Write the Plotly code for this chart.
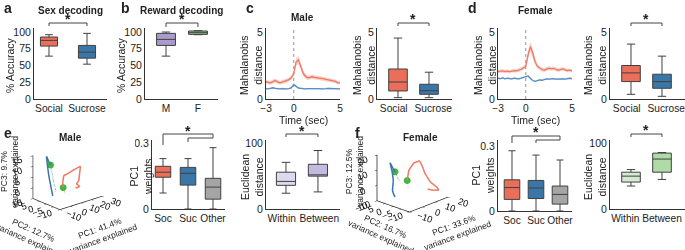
import plotly.graph_objects as go

W, H = 685, 250
FONT = "Liberation Sans, Arial, Helvetica, sans-serif"
TXT = "#222222"
AXC = "#333333"
BOXLINE = "#404040"
NB = "\u00a0"

# ---------------- data ----------------
sex_cats = ["Social", "Sucrose"]
sex_q1 = [79, 61]
sex_med = [87.5, 70]
sex_q3 = [92.5, 80]
sex_lo = [64, 52]
sex_hi = [96, 98]

rew_cats = ["M", "F"]
rew_q1 = [80, 96.5]
rew_med = [89, 99]
rew_q3 = [98, 101.5]
rew_lo = [64, 96]
rew_hi = [100, 102]

acc_ticks = [0, 25, 50, 75, 100]
chance_level = 50

time_s = [-3.0, -2.75, -2.5, -2.25, -2.0, -1.75, -1.5, -1.25, -1.0, -0.75, -0.5, -0.25,
          0.0, 0.25, 0.5, 0.75, 1.0, 1.25, 1.5, 1.75, 2.0, 2.25, 2.5, 2.75,
          3.0, 3.25, 3.5, 3.75, 4.0, 4.25, 4.5, 4.75, 5.0]
male_soc = [1.27, 1.22, 1.20, 1.30, 1.38, 1.28, 1.20, 1.26, 1.32, 1.38, 1.45, 1.60,
            1.90, 2.75, 2.92, 2.45, 1.95, 1.70, 1.58, 1.62, 1.66, 1.62, 1.60, 1.56,
            1.52, 1.50, 1.46, 1.42, 1.40, 1.36, 1.32, 1.22, 1.20]
male_soc_sem = [0.14, 0.14, 0.14, 0.15, 0.15, 0.14, 0.14, 0.14, 0.14, 0.15, 0.15, 0.16,
                0.20, 0.30, 0.30, 0.25, 0.20, 0.17, 0.16, 0.16, 0.16, 0.16, 0.16, 0.15,
                0.15, 0.15, 0.15, 0.14, 0.14, 0.14, 0.14, 0.13, 0.13]
male_suc = [0.78, 0.76, 0.80, 0.84, 0.80, 0.76, 0.76, 0.78, 0.76, 0.75, 0.78, 0.85,
            1.08, 0.92, 0.82, 0.80, 0.76, 0.75, 0.77, 0.78, 0.76, 0.75, 0.76, 0.77,
            0.76, 0.75, 0.78, 0.80, 0.78, 0.76, 0.75, 0.76, 0.75]
male_suc_sem = [0.06, 0.06, 0.06, 0.06, 0.06, 0.06, 0.06, 0.06, 0.06, 0.06, 0.06, 0.07,
                0.08, 0.07, 0.06, 0.06, 0.06, 0.06, 0.06, 0.06, 0.06, 0.06, 0.06, 0.06,
                0.06, 0.06, 0.06, 0.06, 0.06, 0.06, 0.06, 0.06, 0.06]
fem_soc = [2.05, 2.08, 2.10, 2.05, 2.08, 2.04, 2.10, 2.12, 2.10, 2.15, 2.22, 2.32,
           2.45, 3.30, 3.90, 3.45, 2.80, 2.45, 2.30, 2.20, 2.15, 2.25, 2.30, 2.25,
           2.28, 2.22, 2.15, 2.20, 2.25, 2.18, 2.12, 2.15, 2.10]
fem_soc_sem = [0.13, 0.13, 0.13, 0.13, 0.13, 0.13, 0.13, 0.13, 0.13, 0.14, 0.14, 0.15,
               0.18, 0.30, 0.35, 0.30, 0.22, 0.17, 0.15, 0.14, 0.14, 0.14, 0.14, 0.14,
               0.14, 0.14, 0.13, 0.13, 0.13, 0.13, 0.13, 0.13, 0.13]
fem_suc = [1.55, 1.52, 1.58, 1.50, 1.55, 1.52, 1.50, 1.55, 1.52, 1.50, 1.55, 1.60,
           1.65, 1.72, 1.55, 1.38, 1.32, 1.38, 1.42, 1.40, 1.48, 1.50, 1.48, 1.50,
           1.52, 1.48, 1.50, 1.52, 1.50, 1.48, 1.52, 1.55, 1.52]
fem_suc_sem = [0.06, 0.06, 0.06, 0.06, 0.06, 0.06, 0.06, 0.06, 0.06, 0.06, 0.06, 0.06,
               0.07, 0.07, 0.07, 0.06, 0.06, 0.06, 0.06, 0.06, 0.06, 0.06, 0.06, 0.06,
               0.06, 0.06, 0.06, 0.06, 0.06, 0.06, 0.06, 0.06, 0.06]
time_ticks = [-3, 0, 5]
maha_ticks = [0, 5]

maha_cats = ["Social", "Sucrose"]
male_maha_q1 = [0.6, 0.35]
male_maha_med = [1.27, 0.62]
male_maha_q3 = [2.24, 1.1]
male_maha_lo = [0.1, 0.1]
male_maha_hi = [4.55, 2.0]
fem_maha_q1 = [1.3, 0.8]
fem_maha_med = [1.95, 1.3]
fem_maha_q3 = [2.5, 1.85]
fem_maha_lo = [0.35, 0.2]
fem_maha_hi = [4.1, 3.2]

pc_cats = ["Soc", "Suc", "Other"]
male_pc1_q1 = [0.145, 0.109, 0.045]
male_pc1_med = [0.168, 0.163, 0.100]
male_pc1_q3 = [0.195, 0.190, 0.140]
male_pc1_lo = [0.073, 0.0, 0.0]
male_pc1_hi = [0.230, 0.230, 0.280]
fem_pc1_q1 = [0.054, 0.058, 0.032]
fem_pc1_med = [0.109, 0.107, 0.077]
fem_pc1_q3 = [0.145, 0.142, 0.116]
fem_pc1_lo = [0.0, 0.0, 0.0]
fem_pc1_hi = [0.280, 0.260, 0.237]
pc1_ticks = [0, 0.3]

euc_cats = ["Within", "Between"]
male_euc_q1 = [36, 50]
male_euc_med = [42, 52]
male_euc_q3 = [56, 68]
male_euc_lo = [24, 26]
male_euc_hi = [71, 89]
fem_euc_q1 = [41, 56]
fem_euc_med = [50, 76]
fem_euc_q3 = [56, 85]
fem_euc_lo = [35, 45]
fem_euc_hi = [60, 86]
euc_ticks = [0, 100]

# PCA trajectories (PC1, PC2, PC3)
m_soc_pre_pc1 = [7.3, 6.8, 5.8]
m_soc_pre_pc2 = [0, 0, 0]
m_soc_pre_pc3 = [-2.8, -1.2, 0.3]
m_soc_pc1 = [5.8, 5.5, 6.5, 11, 16.3, 22.3, 21.6, 20.8, 18.6, 21.6, 18.6, 17.8]
m_soc_pc2 = [0, 0, 0, 0, 0, 0, 0, 0, 0, 0, 0, 0]
m_soc_pc3 = [0.3, 3, 5.7, 6.2, 7, 7.6, 4.9, 1.3, -0.1, -1.6, -2, -1.3]
m_suc_pre_pc1 = [5.4, 3.5, 1.8, 0.2]
m_suc_pre_pc2 = [5, 5, 5, 5]
m_suc_pre_pc3 = [-2.7, 1.5, 6, 10.4]
m_suc_pc1 = [0.2, -3.6, -2.5, -1.4, 0.5, 2.4]
m_suc_pc2 = [5, 5, 5, 5, 5, 5]
m_suc_pc3 = [10.4, 15, 10, 5.7, 0.5, -4.4]
m_onset_pc1 = [5.8, 0.2]
m_onset_pc2 = [0, 5]
m_onset_pc3 = [0.3, 10.4]

f_soc_pre_pc1 = [1.8, 1.2, 0.8]
f_soc_pre_pc2 = [0, 0, 0]
f_soc_pre_pc3 = [-1.5, 1, 3.5]
f_soc_pc1 = [0.8, 2.1, 5.9, 10.4, 12.3, 13.6, 15, 18, 19, 15, 13]
f_soc_pc2 = [0, 0, 0, 0, 0, -1, -3, -5, -5, -4, -3]
f_soc_pc3 = [3.5, 9.6, 13.2, 13.2, 9.7, 4, -1, -5, -7, -6, -5]
f_suc_pre_pc1 = [1, -0.5, -2.4]
f_suc_pre_pc2 = [5, 5, 5]
f_suc_pre_pc3 = [1, 4.5, 8.4]
f_suc_pc1 = [-2.4, -6.2, -4.5, -3.6, -4.3, -2, -1]
f_suc_pc2 = [5, 5, 5, 5, 5, 6, 6]
f_suc_pc3 = [8.4, 15.5, 9, 3, -3.3, -7, -9]
f_onset_pc1 = [0.8, -2.4]
f_onset_pc2 = [0, 5]
f_onset_pc3 = [3.5, 8.4]

# ---------------- colours ----------------
C_SOC = "#EA6E5A"
C_SUC = "#3B76A8"
C_M = "#A99BCB"
C_F = "#8CCB8A"
C_OTH = "#A5A5A5"
C_WM = "#DDD9EE"
C_BM = "#C4BAE0"
C_WF = "#D3ECCF"
C_BF = "#B0DBA9"
C_LRED = "#EE7A64"
C_LBLUE = "#5A8DC8"
C_GREEN = "#3CB83C"

fig = go.Figure()
AX = {}
layout_axes = {}


def refs(n):
    return ("x" if n == 1 else f"x{n}"), ("y" if n == 1 else f"y{n}")


def def_axes(n, xpx, ypx, xr, yr, yt, cats=None, xt=None, labels=None):
    AX[n] = dict(xd=[xpx[0] / W, xpx[1] / W], yd=[1 - ypx[1] / H, 1 - ypx[0] / H], xr=xr, yr=yr)
    xr_, yr_ = refs(n)
    common = dict(showline=True, linecolor=AXC, linewidth=1, showgrid=False, zeroline=False,
                  automargin=False, ticks="", fixedrange=True)
    xa = dict(domain=AX[n]["xd"], range=xr, anchor=yr_, tickangle=0,
              tickfont=dict(size=10.2, color=TXT, family=FONT), **common)
    if cats:
        xa.update(type="category", categoryorder="array", categoryarray=cats,
                  tickmode="array", tickvals=cats, ticktext=labels or cats)
    else:
        xa.update(tickvals=xt)
    ya = dict(domain=AX[n]["yd"], range=yr, anchor=xr_, tickvals=yt,
              tickfont=dict(size=10.5, color=TXT, family=FONT), **common)
    key = "" if n == 1 else str(n)
    layout_axes[f"xaxis{key}"] = xa
    layout_axes[f"yaxis{key}"] = ya


def add_boxes(n, cats, q1, med, q3, lo, hi, colors, width):
    xr_, yr_ = refs(n)
    for i, c in enumerate(cats):
        fig.add_trace(go.Box(x=[c], q1=[q1[i]], median=[med[i]], q3=[q3[i]],
                             lowerfence=[lo[i]], upperfence=[hi[i]],
                             fillcolor=colors[i], line=dict(color=BOXLINE, width=1),
                             width=width, whiskerwidth=0.45, boxpoints=False,
                             xaxis=xr_, yaxis=yr_, showlegend=False, hoverinfo="skip"))


def add_trace_band(n, t, mean, sem, color, band):
    xr_, yr_ = refs(n)
    up = [m + s for m, s in zip(mean, sem)]
    dn = [m - s for m, s in zip(mean, sem)]
    fig.add_trace(go.Scatter(x=t + t[::-1], y=up + dn[::-1], fill="toself", fillcolor=band,
                             line=dict(width=0), mode="lines", xaxis=xr_, yaxis=yr_,
                             showlegend=False, hoverinfo="skip"))
    fig.add_trace(go.Scatter(x=t, y=mean, mode="lines", line=dict(color=color, width=1.3),
                             xaxis=xr_, yaxis=yr_, showlegend=False, hoverinfo="skip"))


maha_labels = ["Social" + NB * 3, NB * 3 + "Sucrose"]
euc_labels_m = ["Within" + NB * 3, NB + "Between"]
euc_labels_f = ["Within" + NB * 4, "Between"]

# ---- axes definitions (pixel placement) ----
def_axes(1, [34, 107], [28, 99], [-0.394, 1.526], [0, 106], acc_ticks, cats=sex_cats)
def_axes(2, [145, 218], [28, 99], [-0.657, 1.626], [0, 106], acc_ticks, cats=rew_cats)
def_axes(3, [266, 340], [28, 99], [-3, 5], [0, 5.3], maha_ticks, xt=time_ticks)
def_axes(4, [377, 452], [28, 99], [-0.677, 1.742], [0, 5.3], maha_ticks, cats=maha_cats,
         labels=maha_labels)
def_axes(5, [498, 572], [28, 99], [-3, 5], [0, 5.3], maha_ticks, xt=time_ticks)
def_axes(6, [610, 685], [28, 99], [-0.677, 1.742], [0, 5.3], maha_ticks, cats=maha_cats,
         labels=maha_labels)
def_axes(7, [152, 225], [140, 209], [-0.44, 2.48], [0, 0.315], pc1_ticks, cats=pc_cats)
def_axes(8, [266, 340], [140, 209], [-0.625, 1.69], [0, 105], euc_ticks, cats=euc_cats,
         labels=euc_labels_m)
def_axes(9, [498, 572], [140, 211], [-0.583, 2.5], [0, 0.33], pc1_ticks, cats=pc_cats)
def_axes(10, [610, 685], [140, 209], [-0.677, 1.742], [0, 105], euc_ticks, cats=euc_cats,
         labels=euc_labels_f)

# ---- a / b : decoding accuracy ----
for n, xr in ((1, [-0.394, 1.526]), (2, [-0.657, 1.626])):
    xr_, yr_ = refs(n)
    fig.add_trace(go.Scatter(x=[xr[0], xr[1]], y=[chance_level, chance_level], mode="lines",
                             line=dict(color="#555555", width=1, dash="dash"),
                             xaxis=xr_, yaxis=yr_, showlegend=False, hoverinfo="skip"))
add_boxes(1, sex_cats, sex_q1, sex_med, sex_q3, sex_lo, sex_hi, [C_SOC, C_SUC], 0.45)
add_boxes(2, rew_cats, rew_q1, rew_med, rew_q3, rew_lo, rew_hi, [C_M, C_F], 0.59)

# ---- c / d : time courses ----
for n, soc, ssem, suc, usem in ((3, male_soc, male_soc_sem, male_suc, male_suc_sem),
                                (5, fem_soc, fem_soc_sem, fem_suc, fem_suc_sem)):
    xr_, yr_ = refs(n)
    fig.add_trace(go.Scatter(x=[0, 0], y=[0, 5.2], mode="lines",
                             line=dict(color="#777777", width=0.8, dash="dot"),
                             xaxis=xr_, yaxis=yr_, showlegend=False, hoverinfo="skip"))
    add_trace_band(n, time_s, suc, usem, C_LBLUE, "rgba(90,141,200,0.3)")
    add_trace_band(n, time_s, soc, ssem, C_LRED, "rgba(238,122,100,0.35)")

add_boxes(4, maha_cats, male_maha_q1, male_maha_med, male_maha_q3, male_maha_lo, male_maha_hi,
          [C_SOC, C_SUC], 0.6)
add_boxes(6, maha_cats, fem_maha_q1, fem_maha_med, fem_maha_q3, fem_maha_lo, fem_maha_hi,
          [C_SOC, C_SUC], 0.6)

# ---- e / f boxes ----
add_boxes(7, pc_cats, male_pc1_q1, male_pc1_med, male_pc1_q3, male_pc1_lo, male_pc1_hi,
          [C_SOC, C_SUC, C_OTH], 0.62)
add_boxes(8, euc_cats, male_euc_q1, male_euc_med, male_euc_q3, male_euc_lo, male_euc_hi,
          [C_WM, C_BM], 0.6)
add_boxes(9, pc_cats, fem_pc1_q1, fem_pc1_med, fem_pc1_q3, fem_pc1_lo, fem_pc1_hi,
          [C_SOC, C_SUC, C_OTH], 0.65)
add_boxes(10, euc_cats, fem_euc_q1, fem_euc_med, fem_euc_q3, fem_euc_lo, fem_euc_hi,
          [C_WF, C_BF], 0.6)

# ---- 3D PCA trajectories ----
def add_traj(scene, pre, post, color):
    fig.add_trace(go.Scatter3d(x=pre[0], y=pre[1], z=pre[2], mode="lines",
                               line=dict(color=color, width=2, dash="dot"), scene=scene,
                               showlegend=False, hoverinfo="skip"))
    fig.add_trace(go.Scatter3d(x=post[0], y=post[1], z=post[2], mode="lines",
                               line=dict(color=color, width=3), scene=scene,
                               showlegend=False, hoverinfo="skip"))


add_traj("scene", (m_soc_pre_pc1, m_soc_pre_pc2, m_soc_pre_pc3), (m_soc_pc1, m_soc_pc2, m_soc_pc3), C_LRED)
add_traj("scene", (m_suc_pre_pc1, m_suc_pre_pc2, m_suc_pre_pc3), (m_suc_pc1, m_suc_pc2, m_suc_pc3), C_SUC)
fig.add_trace(go.Scatter3d(x=m_onset_pc1, y=m_onset_pc2, z=m_onset_pc3, mode="markers",
                           marker=dict(color=C_GREEN, size=4), scene="scene", showlegend=False))
add_traj("scene2", (f_soc_pre_pc1, f_soc_pre_pc2, f_soc_pre_pc3), (f_soc_pc1, f_soc_pc2, f_soc_pc3), C_LRED)
add_traj("scene2", (f_suc_pre_pc1, f_suc_pre_pc2, f_suc_pre_pc3), (f_suc_pc1, f_suc_pc2, f_suc_pc3), C_SUC)
fig.add_trace(go.Scatter3d(x=f_onset_pc1, y=f_onset_pc2, z=f_onset_pc3, mode="markers",
                           marker=dict(color=C_GREEN, size=4), scene="scene2", showlegend=False))


def ax3d(rng, tv):
    return dict(range=rng, tickvals=tv, title=dict(text=""), showgrid=False, showbackground=False,
                showline=True, linecolor="#222222", linewidth=1.5, zeroline=False, showspikes=False,
                showticklabels=True, ticks="outside", ticklen=3, tickcolor="#222222",
                tickfont=dict(size=10.5, color="#111111", family="Arial"))


scene_e = dict(domain=dict(x=[0 / W, 135 / W], y=[1 - 232 / H, 1 - 120 / H]),
               xaxis=ax3d([-10, 30], [-10, 0, 10, 20, 30]),
               yaxis=ax3d([-10, 10], [-10, -5, 0, 5, 10]),
               zaxis=ax3d([-5, 15], [-5, 0, 5, 10, 15]),
               aspectmode="manual", aspectratio=dict(x=1, y=0.73, z=0.82),
               camera=dict(eye=dict(x=-0.85, y=-0.97, z=0.5), projection=dict(type="orthographic")),
               bgcolor="white")
scene_f = dict(domain=dict(x=[345 / W, 480 / W], y=[1 - 232 / H, 1 - 120 / H]),
               xaxis=ax3d([-10, 20], [-10, 0, 10, 20]),
               yaxis=ax3d([-10, 10], [-10, -5, 0, 5, 10]),
               zaxis=ax3d([-10, 20], [-10, 0, 10, 20]),
               aspectmode="manual", aspectratio=dict(x=1, y=0.8, z=0.88),
               camera=dict(eye=dict(x=-0.92, y=-0.87, z=0.5), projection=dict(type="orthographic")),
               bgcolor="white")

# ---------------- annotations ----------------
annotations = []
shapes = []


def ann(text, xpx, ypx, size=10.5, bold=False, angle=0, xanchor="center", yanchor="middle"):
    if bold:
        text = f"<b>{text}</b>"
    annotations.append(dict(text=text, x=xpx / W, y=1 - ypx / H, xref="paper", yref="paper",
                            showarrow=False, textangle=angle, xanchor=xanchor, yanchor=yanchor,
                            font=dict(size=size, color=TXT, family=FONT)))


def px_x(n, v):
    d = AX[n]
    return d["xd"][0] + (v - d["xr"][0]) / (d["xr"][1] - d["xr"][0]) * (d["xd"][1] - d["xd"][0])


def bracket(n, i0, i1, ytop, yl0, yl1, star=None):
    x0, x1 = px_x(n, i0), px_x(n, i1)
    yt, y0, y1 = 1 - ytop / H, 1 - yl0 / H, 1 - yl1 / H
    shapes.append(dict(type="path", xref="paper", yref="paper",
                       path=f"M {x0},{y0} L {x0},{yt} L {x1},{yt} L {x1},{y1}",
                       line=dict(color="#444444", width=1)))
    if star is not None:
        xs = (x0 + x1) / 2 * W
        ann("*", xs, star, size=14, bold=True)


# panel letters
for letter, x, y in (("a", 8, 8), ("b", 125, 8), ("c", 250, 8), ("d", 473, 8),
                     ("e", 8, 133), ("f", 357, 133)):
    ann(letter, x, y, size=14, bold=True)

# titles
ann("Sex decoding", 70, 10, size=10, bold=True)
ann("Reward decoding", 181, 10, size=10, bold=True)
ann("Male", 302, 18, size=10, bold=True)
ann("Female", 535, 10, size=10, bold=True)
ann("Male", 70, 137, size=10, bold=True)
ann("Female", 420, 137, size=10, bold=True)

# y titles
ann("% Accuracy", 10, 65, angle=-90)
ann("% Accuracy", 121, 65, angle=-90)
ann("Mahalanobis<br>distance", 251, 65, angle=-90)
ann("Mahalanobis<br>distance", 364, 65, angle=-90)
ann("Mahalanobis<br>distance", 485, 65, angle=-90)
ann("Mahalanobis<br>distance", 595, 65, angle=-90)
ann("PC1<br>weights", 141, 177, angle=-90)
ann("Euclidean<br>distance", 252, 177, angle=-90)
ann("PC1<br>weights", 483, 176, angle=-90)
ann("Euclidean<br>distance", 595, 177, angle=-90)

# x titles
ann("Time (sec)", 303, 120)
ann("Time (sec)", 535, 120)

# 3D axis titles
ann("PC3: 9.7%<br>variance explained", 9, 172, size=8.5, angle=-90)
ann("PC2: 12.7%<br>variance explained", 32, 235, size=8.5, angle=24)
ann("PC1: 41.4%<br>variance explained", 101, 233, size=8.5, angle=-20)
ann("PC3: 12.5%<br>variance explained", 354, 172, size=8.5, angle=-90)
ann("PC2: 16.7%<br>variance explained", 383, 231, size=8.5, angle=24)
ann("PC1: 33.6%<br>variance explained", 455, 230, size=8.5, angle=-20)

# significance brackets
bracket(1, 0, 1, 23, 26, 26, star=19)
bracket(2, 0, 1, 23, 27, 27, star=19)
bracket(4, 0, 1, 23, 26, 26, star=19)
bracket(6, 0, 1, 23, 26, 26, star=19)
bracket(7, 0, 2, 134, 145, 138, star=131)
bracket(7, 1, 2, 138, 142, 138)
bracket(8, 0, 1, 134, 137, 137, star=131)
bracket(9, 0, 2, 136, 143, 140, star=132)
bracket(9, 1, 2, 140, 143, 140)
bracket(10, 0, 1, 134, 137, 137, star=130)

fig.update_layout(template="none", width=W, height=H,
                  margin=dict(l=0, r=0, t=0, b=0, pad=0, autoexpand=False),
                  paper_bgcolor="white", plot_bgcolor="white", showlegend=False,
                  font=dict(family=FONT, color=TXT), annotations=annotations, shapes=shapes,
                  scene=scene_e, scene2=scene_f, **layout_axes)

fig.write_html("out.html", config={"displayModeBar": False},
               post_script="document.body.style.margin='0';document.body.style.overflow='hidden';")
